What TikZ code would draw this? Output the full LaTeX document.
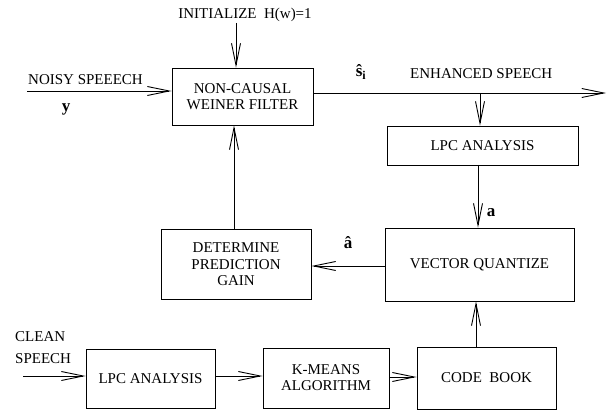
\documentclass[tikz,border=0pt]{standalone}
\usepackage{fontspec}
\setmainfont{Liberation Serif}
\usetikzlibrary{arrows.meta}
\tikzset{
  lbl/.style={font=\fontsize{15}{16}\selectfont, inner sep=0pt},
  blk/.style={draw, line width=0.9pt, align=center, inner sep=0pt,
              font=\fontsize{15}{16}\selectfont},
  sym/.style={font=\fontsize{17}{17}\selectfont\bfseries, inner sep=0pt},
  arr/.style={line width=0.9pt, -{Straight Barb[length=22pt,width=9pt,line width=0.9pt]}},
}
\begin{document}
\begin{tikzpicture}[x=1pt,y=-1pt]
\useasboundingbox (0,0) rectangle (607,411);

% processing blocks
\node[blk, minimum width=141, minimum height=57] (wiener) at (242.5,96.5) {NON-CAUSAL\\WEINER FILTER};
\node[blk, minimum width=191, minimum height=39] (lpctop) at (482.5,145.5) {LPC ANALYSIS};
\node[blk, minimum width=189, minimum height=73] (vq) at (479.5,264.5) {VECTOR QUANTIZE};
\node[blk, minimum width=150, minimum height=70] (gain) at (236,264) {DETERMINE\\[0.5pt]PREDICTION\\GAIN};
\node[blk, minimum width=129, minimum height=59] (lpcbot) at (150.5,378.5) {LPC ANALYSIS};
\node[blk, minimum width=126, minimum height=60] (kmeans) at (326,378) {K-MEANS\\ALGORITHM};
\node[blk, minimum width=139, minimum height=62] (book) at (486.5,378) {CODE\ \ BOOK};

% text labels
\node[lbl] (init) at (245,15) {INITIALIZE\ \ H(w)=1};
\node[lbl, anchor=west] (noisy) at (28,80) {NOISY SPEEECH};
\node[sym] (ylab) at (66,109) {y};
\node[lbl, anchor=west] (enh) at (410,74) {ENHANCED SPEECH};
\node[sym] (shat) at (361,72) {\^{s}\textsubscript{i}};
\node[sym] (alab) at (491,213) {a};
\node[sym] (ahat) at (348,243) {\^{a}};
\node[lbl, anchor=west, align=left, font=\fontsize{15}{22}\selectfont] (clean) at (15,348) {CLEAN\\SPEECH};

% free ends of the connectors
\coordinate (initdrop) at (236,23);
\coordinate (noisyin) at (27,91);
\coordinate (enhout) at (606,93);
\coordinate (tap) at (480,93);
\coordinate (cleanin) at (23,376);

% connectors
\draw[arr] (initdrop) -- (initdrop |- wiener.north);
\draw[arr] (noisyin) -- (noisyin -| wiener.west);
\draw[arr] (enhout -| wiener.east) -- (enhout);
\draw[arr] (tap) -- (tap |- lpctop.north);
\draw[arr] (478,165) coordinate (lpcout) -- (lpcout |- vq.north);
\draw[arr] (vq.west |- 0,266) coordinate (vqout) -- (vqout -| gain.east);
\draw[arr] (gain.north -| 234,0) coordinate (gout) -- (gout |- wiener.south);
\draw[arr] (book.north -| 476,0) coordinate (bout) -- (bout |- vq.south);
\draw[arr] (cleanin) -- (cleanin -| lpcbot.west);
\draw[arr] (lpcbot.east |- 0,376) coordinate (l2out) -- (l2out -| kmeans.west);
\draw[arr] (kmeans.east |- 0,377) coordinate (kout) -- (kout -| book.west);
\end{tikzpicture}
\end{document}
